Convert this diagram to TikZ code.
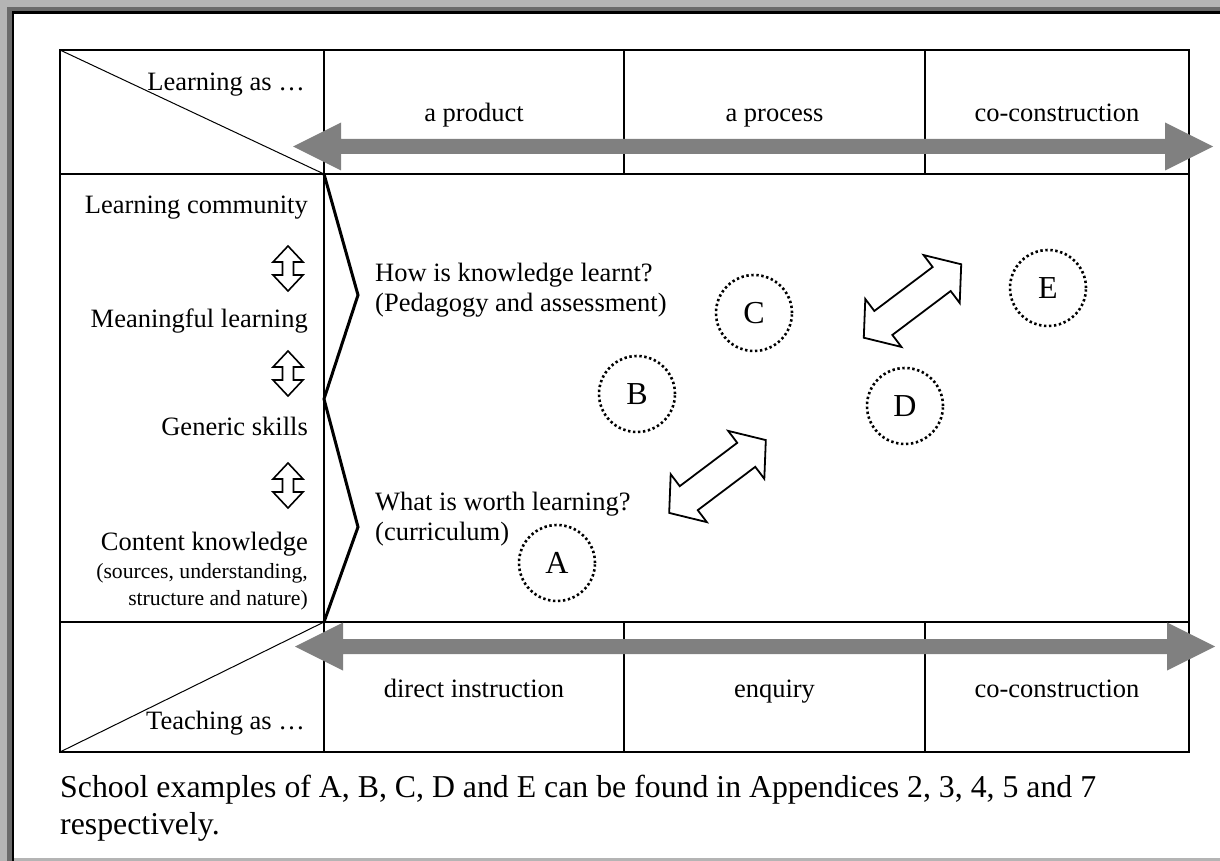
\documentclass[tikz,border=0pt]{standalone}
\usepackage{fontspec}
\setmainfont{Liberation Serif}
\begin{document}
\begin{tikzpicture}[x=1pt,y=-1pt,
  gridline/.style={line width=2pt, black},
  thinline/.style={line width=1pt, black},
  zig/.style={line width=3pt, black, line join=miter},
  bigarrow/.style={fill=arrowgray, draw=none},
  blockarrow/.style={draw=black, line width=1.8pt, fill=white, line join=miter},
  dotcircle/.style={circle, draw=black, line width=2.6pt, dash pattern=on 2.4pt off 2.6pt, minimum size=76pt, inner sep=0pt, font=\fontsize{32}{32}\selectfont},
  cell/.style={font=\fontsize{26.5}{30}\selectfont, inner sep=0pt, anchor=base},
  lcell/.style={font=\fontsize{26.5}{30}\selectfont, inner sep=0pt, anchor=base east},
  scell/.style={font=\fontsize{21.7}{26}\selectfont, inner sep=0pt, anchor=base east},
  qcell/.style={font=\fontsize{26.5}{30}\selectfont, inner sep=0pt, anchor=base west},
  captext/.style={font=\fontsize{31.8}{34}\selectfont, inner sep=0pt, anchor=base west},
]
\definecolor{arrowgray}{HTML}{808080}
\definecolor{framelight}{HTML}{B4B4B4}
\definecolor{framedark}{HTML}{6A6A6A}
\useasboundingbox (0,0) rectangle (1220,861);
% outer frame
\fill[framelight] (0,0) rectangle (1220,7);
\fill[framelight] (0,0) rectangle (7,861);
\fill[framedark] (7,7) rectangle (1220,11.5);
\fill[framedark] (7,7) rectangle (11.5,861);
\fill[black] (11.5,11.5) rectangle (1220,14.5);
\fill[black] (11.5,11.5) rectangle (14,861);
\fill[framelight] (14,858) rectangle (1220,861);

% table
\coordinate (TL) at (60,50);
\coordinate (TR) at (1189,50);
\coordinate (BL) at (60,752);
\coordinate (BR) at (1189,752);
\coordinate (C1T) at (324,50);
\coordinate (C1B) at (324,752);
\coordinate (H1L) at (60,174);
\coordinate (H1R) at (1189,174);
\coordinate (H2L) at (60,622);
\coordinate (H2R) at (1189,622);
\draw[gridline] (TL) rectangle (BR);
\draw[gridline] (C1T) -- (C1B);
\draw[gridline] (H1L) -- (H1R);
\draw[gridline] (H2L) -- (H2R);
\draw[gridline] (624,50) -- (624,174);
\draw[gridline] (925,50) -- (925,174);
\draw[gridline] (624,622) -- (624,752);
\draw[gridline] (925,622) -- (925,752);
\draw[thinline] (TL) -- (324,174);
\draw[thinline] (BL) -- (324,622);

% zigzag
\draw[zig] (324,174) -- (358,295) -- (324,399) -- (358,527) -- (324,622);

% big grey double arrows
\fill[bigarrow] (293,146.5) -- (341,122.5) -- (341,139) -- (1165,139) -- (1165,122.5) -- (1213,146.5) -- (1165,170.5) -- (1165,154) -- (341,154) -- (341,170.5) -- cycle;
\fill[bigarrow] (295,646.5) -- (343,622.5) -- (343,639) -- (1167,639) -- (1167,622.5) -- (1215,646.5) -- (1167,670.5) -- (1167,654) -- (343,654) -- (343,670.5) -- cycle;

% header texts
\node[lcell] (learnas) at (305,91) {Learning as \dots};
\node[cell] (prod) at (474,122) {a product};
\node[cell] (proc) at (774.5,122) {a process};
\node[cell] (cocon1) at (1057,122) {co-construction};
\node[cell] (direct) at (474,697) {direct instruction};
\node[cell] (enq) at (774.5,697) {enquiry};
\node[cell] (cocon2) at (1057,697) {co-construction};
\node[lcell] (teachas) at (305,729) {Teaching as \dots};

% left column
\node[lcell] (lc) at (308,214) {Learning community};
\node[lcell] (ml) at (308,327) {Meaningful learning};
\node[lcell] (gs) at (308,435) {Generic skills};
\node[lcell] (ck) at (308,550) {Content knowledge};
\node[scell] (ck2) at (308,578) {(sources, understanding,};
\node[scell] (ck3) at (308,605) {structure and nature)};

% small vertical double arrows
\foreach \cy in {268.5,373.5,485.5}{
  \draw[blockarrow, line width=1.6pt] (288,\cy-22.5) -- (303,\cy-6.5) -- (293.5,\cy-6.5) -- (293.5,\cy+6.5) -- (303,\cy+6.5) -- (288,\cy+22.5) -- (273,\cy+6.5) -- (282.5,\cy+6.5) -- (282.5,\cy-6.5) -- (273,\cy-6.5) -- cycle;
}

% questions
\node[qcell] (how) at (375,281) {How is knowledge learnt?};
\node[qcell] (ped) at (375,311) {(Pedagogy and assessment)};
\node[qcell] (what) at (375,510) {What is worth learning?};
\node[qcell] (cur) at (375,540) {(curriculum)};

% circles
\node[dotcircle] (A) at (557,563) {A};
\node[dotcircle] (B) at (637,394) {B};
\node[dotcircle] (C) at (754,313) {C};
\node[dotcircle] (D) at (905,406) {D};
\node[dotcircle] (E) at (1048,288) {E};

% diagonal block arrows
\begin{scope}[shift={(717.5,476.5)}, rotate=37]
\draw[blockarrow] (-60.5,0) -- (-36,30) -- (-36,15) -- (36,15) -- (36,30) -- (60.5,0) -- (36,-30) -- (36,-15) -- (-36,-15) -- (-36,-30) -- cycle;
\end{scope}
\begin{scope}[shift={(912.5,301)}, rotate=37]
\draw[blockarrow] (-61,0) -- (-36.5,30) -- (-36.5,15) -- (36.5,15) -- (36.5,30) -- (61,0) -- (36.5,-30) -- (36.5,-15) -- (-36.5,-15) -- (-36.5,-30) -- cycle;
\end{scope}

% caption
\node[captext] (cap1) at (60,797) {School examples of A, B, C, D and E can be found in Appendices 2, 3, 4, 5 and 7};
\node[captext] (cap2) at (60,834) {respectively.};
\end{tikzpicture}
\end{document}
